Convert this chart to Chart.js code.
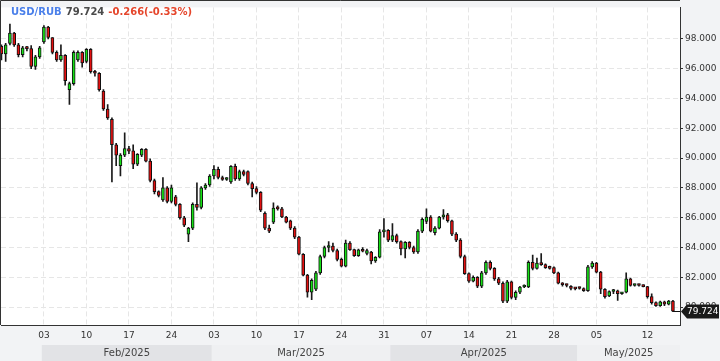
<!DOCTYPE html>
<html>
<head>
<meta charset="utf-8">
<script src="https://cdn.jsdelivr.net/npm/chart.js"></script>
<style>
  html, body { margin: 0; padding: 0; background: #f2f3f5; }
  canvas { display: block; }
</style>
</head>
<body>
<canvas id="rubChart" width="720" height="361"></canvas>
<script>
// two candles per trading day, index = slot on the x axis
const opens = [
  97.5, 97.0, 97.7, 98.4, 97.6, 96.95, 97.4, 97.35, 96.15, 96.8,
  97.8, 98.8, 98.1, 97.1, 96.6, 96.9, 94.6, 95.0, 96.6, 97.1,
  96.5, 97.3, 95.8, 95.7, 94.5, 93.3, 92.6, 90.9, 89.5, 90.2,
  90.65, 90.5, 89.6, 90.2, 90.6, 89.8, 88.5, 87.75, 87.2, 88.0,
  87.1, 87.4, 86.9, 86.0, 84.9, 85.3, 86.9, 86.7, 88.0, 88.2,
  88.8, 89.25, 88.7, 88.57, 88.4, 89.45, 88.6, 89.1, 89.1, 88.3,
  87.95, 87.7, 86.3, 85.3, 85.7, 86.65, 86.6, 86.05, 85.8, 85.3,
  84.7, 83.55, 82.15, 81.0, 81.2, 82.3, 83.4, 84.0, 84.1, 83.8,
  83.2, 82.75, 84.3, 83.86, 83.45, 83.85, 83.6, 83.7, 83.1, 83.35,
  85.05, 85.15, 84.5, 84.8, 84.4, 83.9, 84.35, 84.0, 83.7, 85.1,
  85.75, 86.05, 85.0, 85.3, 86.05, 86.2, 85.8, 84.9, 84.5, 83.4,
  82.25, 81.75, 82.0, 81.4, 82.3, 83.0, 82.6, 81.9, 81.6, 80.4,
  81.7, 80.65, 81.0, 81.35, 81.35, 83.0, 82.6, 82.95, 82.85, 82.65,
  82.65, 82.3, 81.6, 81.5, 81.4, 81.25, 81.3, 81.25, 81.1, 82.7,
  82.95, 82.35, 81.2, 80.75, 81.05, 81.1, 80.9, 81.0, 81.9, 81.45,
  81.5, 81.45, 81.38, 80.7, 80.3, 80.1, 80.35, 80.2, 80.4
];
const highs = [
  97.6, 97.7, 99.0, 98.45, 97.7, 97.5, 97.5, 97.55, 96.9, 97.5,
  98.9, 98.85, 98.1, 97.2, 97.6, 96.95, 95.1, 97.2, 97.2, 97.15,
  97.35, 97.35, 95.9, 95.75, 94.6, 93.6, 92.7, 91.0, 90.3, 91.7,
  90.8, 90.9, 90.3, 90.65, 90.65, 89.95, 88.6, 87.8, 88.7, 88.1,
  88.2, 87.5, 86.95, 86.1, 85.35, 87.0, 88.35, 88.1, 88.3, 88.9,
  89.5, 89.4, 88.8, 88.7, 89.5, 89.6, 89.2, 89.2, 89.15, 88.4,
  88.1, 87.75, 86.4, 85.5, 87.0, 86.8, 86.7, 86.1, 85.85, 85.4,
  84.75, 83.6, 82.2, 81.9, 82.4, 83.5, 84.1, 84.4, 84.3, 83.9,
  83.3, 84.5, 84.4, 83.9, 83.9, 84.0, 83.9, 83.75, 83.4, 85.2,
  85.95, 85.2, 85.6, 84.9, 84.45, 84.4, 84.4, 84.1, 85.2, 86.0,
  86.6, 86.15, 85.4, 86.1, 86.55, 86.3, 85.85, 85.0, 84.6, 83.5,
  82.3, 82.1, 82.05, 82.4, 83.1, 83.1, 82.65, 82.0, 81.7, 81.8,
  81.75, 81.1, 81.4, 81.5, 83.1, 83.5, 83.3, 83.6, 82.9, 82.75,
  82.7, 82.35, 81.65, 81.55, 81.45, 81.3, 81.35, 81.3, 82.8, 83.05,
  83.0, 82.4, 81.25, 81.1, 81.2, 81.15, 81.0, 82.3, 81.95, 81.55,
  81.55, 81.5, 81.4, 80.9, 80.35, 80.4, 80.4, 80.45, 80.45
];
const lows = [
  96.6, 96.5, 97.6, 97.5, 96.8, 96.8, 97.2, 96.0, 95.95, 96.7,
  97.7, 98.0, 97.0, 96.5, 96.5, 94.9, 93.6, 94.9, 96.5, 96.1,
  96.4, 95.7, 95.5, 94.5, 93.2, 92.6, 88.4, 89.5, 88.8, 90.1,
  90.3, 89.3, 89.5, 90.1, 89.75, 88.4, 87.6, 87.4, 87.1, 87.0,
  87.0, 86.8, 85.9, 85.4, 84.4, 85.2, 86.5, 86.6, 87.9, 88.1,
  88.6, 88.6, 88.5, 88.5, 88.3, 88.5, 88.5, 88.8, 88.2, 87.4,
  87.6, 86.4, 85.2, 85.0, 85.6, 86.5, 86.0, 85.65, 85.2, 84.6,
  83.5, 82.1, 80.67, 80.5, 81.1, 82.2, 83.3, 83.7, 83.7, 83.1,
  82.7, 82.7, 83.8, 83.4, 83.4, 83.7, 83.5, 82.9, 83.0, 83.3,
  84.7, 84.4, 84.4, 84.3, 83.5, 83.3, 83.9, 83.6, 83.6, 85.0,
  85.6, 85.05, 84.85, 85.25, 85.9, 85.7, 84.8, 84.4, 83.3, 82.2,
  81.65, 81.7, 81.3, 81.3, 82.2, 82.5, 81.8, 81.5, 80.3, 80.3,
  80.55, 80.5, 80.9, 81.3, 81.3, 82.5, 82.55, 82.8, 82.6, 82.55,
  82.25, 81.55, 81.4, 81.35, 81.15, 81.15, 81.2, 81.05, 81.05, 82.6,
  82.3, 80.9, 80.6, 80.7, 80.9, 80.45, 80.85, 80.95, 81.4, 81.4,
  81.4, 81.35, 80.6, 80.2, 80.05, 80.05, 80.1, 80.15, 79.7
];
const closes = [
  97.0, 97.6, 98.4, 97.6, 96.95, 97.4, 97.35, 96.15, 96.8, 97.4,
  98.8, 98.1, 97.1, 96.6, 96.9, 95.2, 95.0, 97.1, 97.1, 96.4,
  97.3, 95.8, 95.7, 94.6, 93.3, 92.7, 90.9, 90.2, 90.2, 90.65,
  90.47, 89.6, 90.25, 90.6, 89.8, 88.5, 87.75, 87.5, 88.0, 87.1,
  88.0, 86.9, 86.0, 85.5, 85.3, 86.9, 86.7, 88.0, 88.2, 88.8,
  89.25, 88.7, 88.57, 88.6, 89.45, 88.6, 89.1, 88.9, 88.3, 87.95,
  87.7, 86.5, 85.3, 85.1, 86.65, 86.6, 86.05, 85.7, 85.3, 84.7,
  83.55, 82.15, 81.0, 81.8, 82.3, 83.4, 84.0, 84.1, 83.8, 83.2,
  82.75, 84.3, 83.86, 83.45, 83.85, 83.75, 83.8, 83.1, 83.35, 85.05,
  85.15, 84.5, 84.8, 84.4, 83.9, 84.35, 84.0, 83.7, 85.1, 85.9,
  86.05, 85.1, 85.3, 86.05, 86.2, 85.8, 84.9, 84.5, 83.4, 82.25,
  81.75, 82.0, 81.4, 82.3, 83.0, 82.6, 81.9, 81.6, 80.4, 81.7,
  80.65, 81.0, 81.35, 81.45, 83.0, 82.6, 82.95, 82.85, 82.65, 82.6,
  82.3, 81.6, 81.5, 81.45, 81.25, 81.22, 81.25, 81.1, 82.7, 82.95,
  82.35, 81.2, 80.7, 81.05, 81.1, 80.9, 80.95, 81.9, 81.45, 81.5,
  81.45, 81.38, 80.7, 80.3, 80.1, 80.35, 80.2, 80.4, 79.724
];

const weekTicks = [10, 20, 30, 40, 50, 60, 70, 80, 90, 100, 110, 120, 130, 140, 152];
const weekLabels = ['03', '10', '17', '24', '03', '10', '17', '24', '31', '07', '14', '21', '28', '05', '12'];
const monthStarts = [9.5, 49.5, 91.5, 135.5];
const monthLabels = ['Feb/2025', 'Mar/2025', 'Apr/2025', 'May/2025'];
const priceTicks = [80, 82, 84, 86, 88, 90, 92, 94, 96, 98];

const lastPrice = 79.724;
const change = '-0.266(-0.33%)';

Chart.defaults.font.family = '"DejaVu Sans", sans-serif';

const bodyData = opens.map((o, i) => ({x: i, y: [o, closes[i]]}));
const wickData = lows.map((l, i) => ({x: i, y: [l, highs[i]]}));
const bodyColors = opens.map((o, i) => closes[i] >= o ? '#16e016' : '#e31010');

const chartDeco = {
    id: 'chartDeco',
    beforeDraw(chart) {
        const {ctx, chartArea: a, scales: {x}} = chart;
        ctx.save();
        ctx.fillStyle = '#f2f3f5';
        ctx.fillRect(0, 0, chart.width, chart.height);
        ctx.fillStyle = '#ffffff';
        ctx.fillRect(a.left, a.top, a.right - a.left, a.bottom - a.top);
        // month band under the day labels
        const bandTop = 345;
        ctx.font = '10px "DejaVu Sans"';
        ctx.textAlign = 'center';
        ctx.textBaseline = 'middle';
        monthStarts.forEach((m, i) => {
            const x1 = x.getPixelForValue(m);
            const x2 = i + 1 < monthStarts.length ? x.getPixelForValue(monthStarts[i + 1]) : a.right;
            ctx.fillStyle = i % 2 === 0 ? '#e2e3e6' : '#eff0f2';
            ctx.fillRect(x1, bandTop, x2 - x1, chart.height - bandTop);
            ctx.fillStyle = '#444';
            ctx.fillText(monthLabels[i], (x1 + x2) / 2, 353);
        });
        ctx.restore();
    },
    afterDraw(chart) {
        const {ctx, chartArea: a, scales: {x, y}} = chart;
        ctx.save();
        ctx.strokeStyle = '#333';
        ctx.lineWidth = 1;
        ctx.beginPath();
        ctx.moveTo(0.5, a.bottom);
        ctx.lineTo(0.5, 0.5);
        ctx.lineTo(a.right, 0.5);
        ctx.stroke();

        // title
        ctx.font = 'bold 10px "DejaVu Sans"';
        ctx.textBaseline = 'middle';
        ctx.textAlign = 'left';
        let tx = 11;
        [['USD/RUB', '#4b80ea'], [lastPrice.toFixed(3), '#4a4a4a'], [change, '#e5462c']].forEach(([t, c]) => {
            ctx.fillStyle = c;
            ctx.fillText(t, tx, 12);
            tx += ctx.measureText(t).width + 4;
        });

        // last price marker
        const py = Math.round(y.getPixelForValue(lastPrice)) + 0.5;
        ctx.strokeStyle = '#111';
        ctx.beginPath();
        ctx.moveTo(x.getPixelForValue(closes.length - 1), py);
        ctx.lineTo(a.right, py);
        ctx.stroke();
        ctx.fillStyle = '#1a1a1a';
        ctx.beginPath();
        ctx.moveTo(a.right + 1, py);
        ctx.lineTo(a.right + 7, py - 7);
        ctx.lineTo(chart.width - 1, py - 7);
        ctx.lineTo(chart.width - 1, py + 7);
        ctx.lineTo(a.right + 7, py + 7);
        ctx.closePath();
        ctx.fill();
        ctx.fillStyle = '#ffffff';
        ctx.font = '9px "DejaVu Sans"';
        ctx.fillText(lastPrice.toFixed(3), a.right + 7, py + 0.5);
        ctx.restore();
    }
};

const ctx = document.getElementById('rubChart').getContext('2d');
const rubChart = new Chart(ctx, {
    type: 'bar',
    data: {
        datasets: [
            {
                label: 'body',
                data: bodyData,
                backgroundColor: bodyColors,
                borderColor: '#111',
                borderWidth: 1,
                borderSkipped: false,
                barThickness: 3,
                minBarLength: 2,
                grouped: false,
                order: 0
            },
            {
                label: 'wick',
                data: wickData,
                backgroundColor: '#1a1a1a',
                borderWidth: 0,
                barThickness: 1,
                grouped: false,
                order: 1
            }
        ]
    },
    options: {
        responsive: false,
        animation: false,
        events: [],
        layout: { padding: { left: 1, top: 1, right: 0, bottom: 0 } },
        plugins: {
            legend: { display: false },
            tooltip: { enabled: false }
        },
        scales: {
            x: {
                type: 'linear',
                min: -0.1,
                max: 159.66,
                offset: false,
                afterBuildTicks: (s) => { s.ticks = weekTicks.map(v => ({value: v})); },
                afterFit: (s) => { s.height = 36; },
                ticks: {
                    callback: (v, i) => weekLabels[i],
                    autoSkip: false,
                    maxRotation: 0,
                    color: '#333',
                    font: { size: 9 },
                    padding: 5
                },
                grid: { color: '#e6e6e6', drawTicks: false, offset: false },
                border: { color: '#333', dash: [5, 3] }
            },
            y: {
                position: 'right',
                min: 78.8,
                max: 100.12,
                afterBuildTicks: (s) => { s.ticks = priceTicks.map(v => ({value: v})); },
                afterFit: (s) => { s.width = 40; },
                ticks: {
                    callback: (v) => Number(v).toFixed(3),
                    color: '#333',
                    font: { size: 9 },
                    padding: 2
                },
                grid: { color: '#e6e6e6', tickColor: '#333', tickLength: 3, tickBorderDash: [] },
                border: { color: '#333', dash: [5, 3] }
            }
        }
    },
    plugins: [chartDeco]
});
</script>
</body>
</html>
